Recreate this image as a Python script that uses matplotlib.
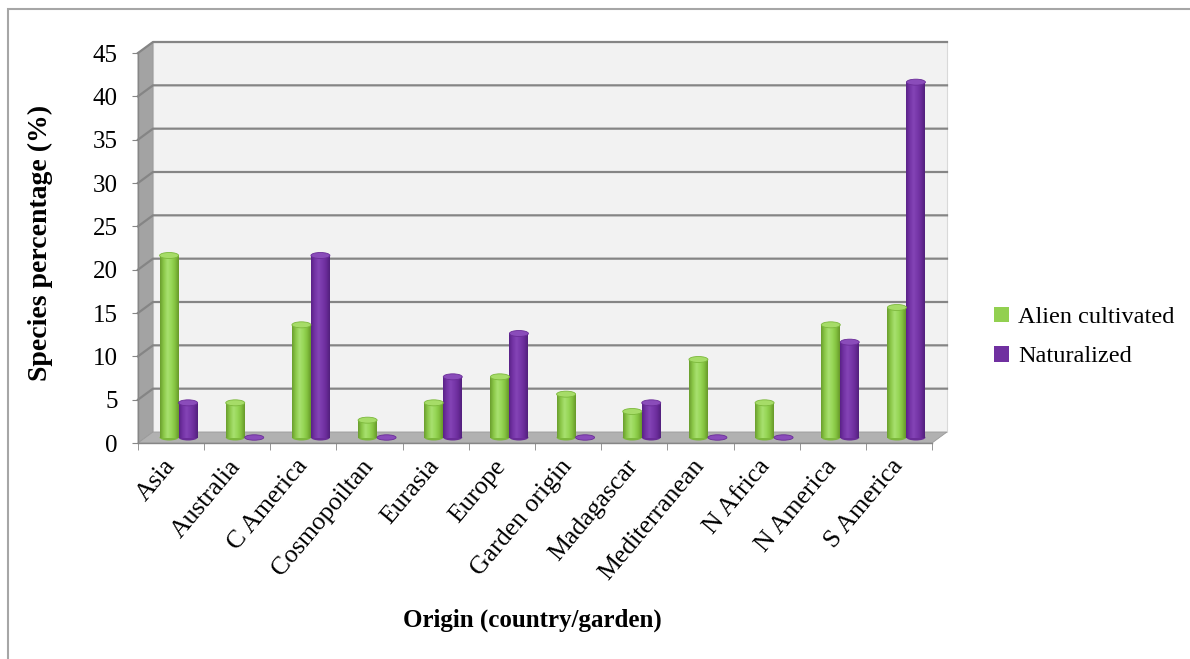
import numpy as np
import matplotlib
matplotlib.use('Agg')
import matplotlib.pyplot as plt
from matplotlib.patches import Rectangle, Ellipse, Polygon
from matplotlib.colors import LinearSegmentedColormap

# dados
categories = ['Asia', 'Australia', 'C America', 'Cosmopoiltan', 'Eurasia', 'Europe',
              'Garden origin', 'Madagascar', 'Mediterranean', 'N Africa', 'N America', 'S America']
alien_cultivated = [21, 4, 13, 2, 4, 7, 5, 3, 9, 4, 13, 15]
naturalized = [4, 0, 21, 0, 7, 12, 0, 4, 0, 0, 11, 41]
series_names = ['Alien cultivated', 'Naturalized']
yticks = [0, 5, 10, 15, 20, 25, 30, 35, 40, 45]

plt.rcParams['font.family'] = ['Liberation Serif', 'DejaVu Serif']

W, H = 1190, 659
fig = plt.figure(figsize=(W / 100, H / 100), dpi=100)

# moldura do grafico (estilo Excel)
fig.patches.append(Rectangle((8 / W, -0.1), 1.2, 1.1 - 9 / H, transform=fig.transFigure,
                             fill=False, ec='#a6a6a6', lw=1.5, zorder=0))

# plano frontal do eixo
ax_l, ax_r, ax_b, ax_t = 138, 932, 443, 53
ax = fig.add_axes([ax_l / W, 1 - ax_b / H, (ax_r - ax_l) / W, (ax_b - ax_t) / H])
n = len(categories)
x0, x1 = -0.5, n - 0.5
ymax = yticks[-1]
ax.patch.set_visible(False)

# profundidade 3D convertida para unidades de dados
px_per_x = (ax_r - ax_l) / n
px_per_y = (ax_b - ax_t) / ymax
ddx = 15 / px_per_x
ddy = 11 / px_per_y

# parede do fundo
ax.add_patch(Rectangle((x0 + ddx, ddy), x1 - x0, ymax, fc='#f2f2f2', ec='#d9d9d9',
                       lw=0.8, zorder=0, clip_on=False))
# parede lateral
ax.add_patch(Polygon([(x0, 0), (x0, ymax), (x0 + ddx, ymax + ddy), (x0 + ddx, ddy)],
                     closed=True, fc='#a3a3a3', ec='#9a9a9a', lw=0.6, zorder=1, clip_on=False))
# piso
ax.add_patch(Polygon([(x0, 0), (x1, 0), (x1 + ddx, ddy), (x0 + ddx, ddy)],
                     closed=True, fc='#b1b1b1', ec='#9a9a9a', lw=0.6, zorder=1, clip_on=False))

# linhas de grade
for v in yticks[1:]:
    ax.plot([x0, x0 + ddx, x1 + ddx], [v, v + ddy, v + ddy], color='#858585',
            lw=1.6, zorder=2, clip_on=False)

# cilindros
green_cmap = LinearSegmentedColormap.from_list(
    'g', ['#6a9e2e', '#8cc94a', '#a8e070', '#98d858', '#84c240', '#67992a'])
purple_cmap = LinearSegmentedColormap.from_list(
    'p', ['#5a2288', '#7434a6', '#8444b6', '#7838aa', '#6a2c9a', '#52207c'])
styles = [
    (alien_cultivated, green_cmap, '#a6dc68', '#7cb83c'),
    (naturalized, purple_cmap, '#8a4cba', '#6a2c98'),
]
bw = 0.287
eh = 6 / px_per_y
base = ddy / 2
grad = np.linspace(0, 1, 64).reshape(1, -1)

for i in range(n):
    for k, (vals, cmap, top_c, bot_c) in enumerate(styles):
        cx = i + ddx / 2 + (k - 0.5) * bw
        v = vals[i]
        z = 3 + i * 0.01
        if v > 0:
            ax.add_patch(Ellipse((cx, base), bw, eh, fc=bot_c, ec='none', zorder=z))
            ax.imshow(grad, extent=[cx - bw / 2, cx + bw / 2, base, base + v], cmap=cmap,
                      aspect='auto', interpolation='bilinear', zorder=z + 0.001)
            ax.add_patch(Ellipse((cx, base + v), bw, eh, fc=top_c, ec=bot_c, lw=0.6,
                                 zorder=z + 0.002))
        else:
            ax.add_patch(Ellipse((cx, base), bw, eh * 0.9, fc=top_c, ec=bot_c, lw=0.6,
                                 zorder=z + 0.002))

ax.set_aspect('auto')
ax.set_xlim(x0, x1)
ax.set_ylim(0, ymax)

# eixos
for s in ['top', 'right']:
    ax.spines[s].set_visible(False)
for s in ['left', 'bottom']:
    ax.spines[s].set_color('#868686')
    ax.spines[s].set_linewidth(1.0)
    ax.spines[s].set_zorder(2.5)

ax.set_yticks(yticks)
ax.set_yticklabels([str(t) for t in yticks])
ax.tick_params(axis='y', length=4.5, color='#868686', labelsize=18, pad=10)

ax.set_xticks(range(n))
ax.set_xticklabels(categories, rotation=50, ha='right', va='center', rotation_mode='anchor')
ax.set_xticks(np.arange(-0.5, n, 1.0), minor=True)
ax.tick_params(axis='x', which='major', length=0, labelsize=18.5, pad=14)
ax.tick_params(axis='x', which='minor', length=5, color='#868686')

fig.text(40 / W, 1 - 243 / H, 'Species percentage (%)', rotation=90, ha='center',
         va='center', fontsize=20, fontweight='bold')
fig.text(532 / W, 1 - 620 / H, 'Origin (country/garden)', ha='center', va='center',
         fontsize=18, fontweight='bold')

handles = [Rectangle((0, 0), 1, 1, fc='#92d050'), Rectangle((0, 0), 1, 1, fc='#7030a0')]
fig.legend(handles, series_names, loc='center left', bbox_to_anchor=(994 / W, 1 - 337 / H),
           frameon=False, fontsize=17.5, handlelength=0.6, handleheight=0.6,
           handletextpad=0.4, labelspacing=0.75, borderaxespad=0, borderpad=0)

fig.savefig('out.png', dpi=100)
